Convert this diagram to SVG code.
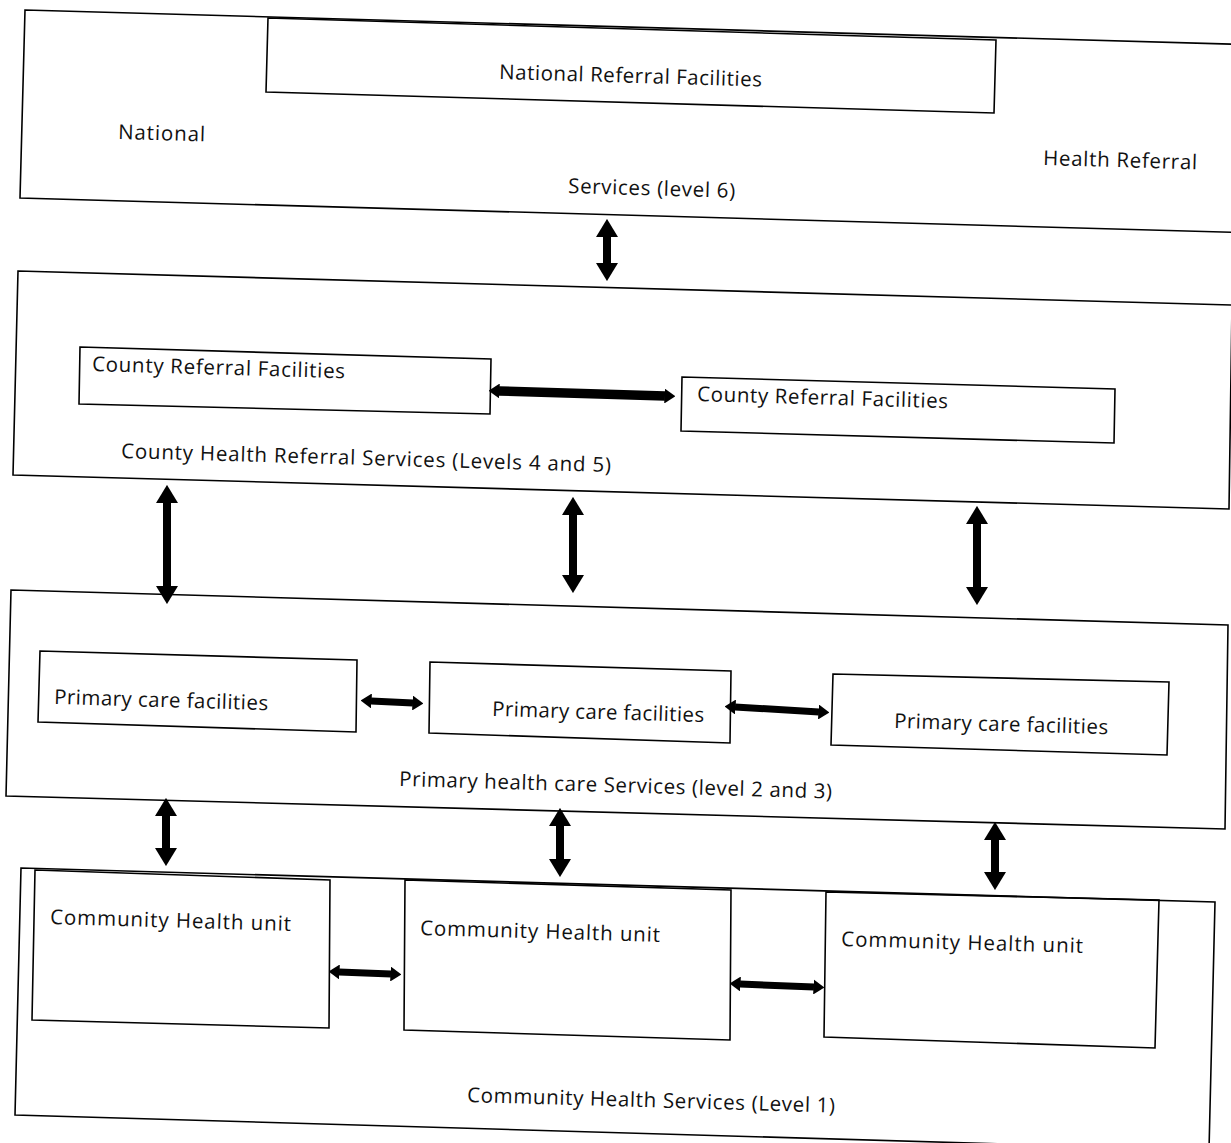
<svg xmlns="http://www.w3.org/2000/svg" width="1231" height="1143" viewBox="0 0 1231 1143">
<style>
.box{fill:none;stroke:#000;stroke-width:1.6;stroke-linejoin:miter}
.t{font-family:"Open Sans","Noto Sans","Liberation Sans",sans-serif;font-size:20.5px;fill:#111}
.av{stroke:#000;stroke-width:8;fill:none;marker-start:url(#hv);marker-end:url(#hv)}
.ah{stroke:#000;stroke-width:7;fill:none;marker-start:url(#hh);marker-end:url(#hh)}
.ahw{stroke-width:9.5}
</style>
<defs>
<marker id="hv" viewBox="0 0 10 10" refX="0.5" refY="5" markerUnits="userSpaceOnUse" markerWidth="18" markerHeight="22" orient="auto-start-reverse" preserveAspectRatio="none"><path d="M0,0 L10,5 L0,10 z" fill="#000"/></marker>
<marker id="hh" viewBox="0 0 10 10" refX="0.5" refY="5" markerUnits="userSpaceOnUse" markerWidth="11" markerHeight="15" orient="auto-start-reverse" preserveAspectRatio="none"><path d="M0,0 L10,5 L0,10 z" fill="#000"/></marker>
</defs>
<rect width="1231" height="1143" fill="#fff"/>

<g id="national-level">
<polygon class="box" points="25,10 1262,45 1257,233 20,198"/>
<text class="t" x="118" y="139" transform="rotate(1.65 118 139)" textLength="87">National</text>
<text class="t" x="1043" y="165" transform="rotate(1.65 1043 165)" textLength="154">Health Referral</text>
<text class="t" x="568" y="193" transform="rotate(1.65 568 193)" textLength="167">Services (level 6)</text>
</g>
<g id="national-referral-facilities">
<polygon class="box" points="268,18 996,40 994,113 266,92"/>
<text class="t" x="499" y="79" transform="rotate(1.65 499 79)" textLength="263">National Referral Facilities</text>
</g>

<g id="county-level">
<polygon class="box" points="18,271 1232,305 1229,509 13,475"/>
<text class="t" x="121" y="458" transform="rotate(1.65 121 458)" textLength="490">County Health Referral Services (Levels 4 and 5)</text>
</g>
<g id="county-referral-1">
<polygon class="box" points="80,347 491,359 490,414 79,404"/>
<text class="t" x="92" y="371" transform="rotate(1.65 92 371)" textLength="253">County Referral Facilities</text>
</g>
<g id="county-referral-2">
<polygon class="box" points="682,377 1115,389 1114,443 681,431"/>
<text class="t" x="697" y="401" transform="rotate(1.65 697 401)" textLength="251">County Referral Facilities</text>
</g>

<g id="primary-level">
<polygon class="box" points="11,590 1228,625 1225,829 6,796"/>
<text class="t" x="399" y="786" transform="rotate(1.65 399 786)" textLength="433">Primary health care Services (level 2 and 3)</text>
</g>
<g id="primary-care-1">
<polygon class="box" points="40,651 357,660 356,732 38,722"/>
<text class="t" x="54" y="704" transform="rotate(1.65 54 704)" textLength="214">Primary care facilities</text>
</g>
<g id="primary-care-2">
<polygon class="box" points="430,662 731,671 730,743 429,733"/>
<text class="t" x="492" y="716" transform="rotate(1.65 492 716)" textLength="212">Primary care facilities</text>
</g>
<g id="primary-care-3">
<polygon class="box" points="833,674 1169,682 1167,755 831,745"/>
<text class="t" x="894" y="728" transform="rotate(1.65 894 728)" textLength="214">Primary care facilities</text>
</g>

<g id="community-level">
<polygon class="box" points="21,868 1215,902 1209,1150 15,1115"/>
<text class="t" x="467" y="1102" transform="rotate(1.65 467 1102)" textLength="368">Community Health Services (Level 1)</text>
</g>
<g id="community-unit-1">
<polygon class="box" points="35,870 330,880 329,1028 32,1020"/>
<text class="t" x="50" y="924" transform="rotate(1.65 50 924)" textLength="241">Community Health unit</text>
</g>
<g id="community-unit-2">
<polygon class="box" points="405,880 731,890 730,1040 404,1030"/>
<text class="t" x="420" y="935" transform="rotate(1.65 420 935)" textLength="240">Community Health unit</text>
</g>
<g id="community-unit-3">
<polygon class="box" points="826,892 1159,900 1155,1048 824,1037"/>
<text class="t" x="841" y="946" transform="rotate(1.65 841 946)" textLength="242">Community Health unit</text>
</g>

<g id="connectors">
<line class="av" x1="607" y1="236" x2="607" y2="264"/>
<line class="ah ahw" x1="499" y1="391" x2="665" y2="396"/>
<line class="av" x1="167" y1="502" x2="167" y2="587"/>
<line class="av" x1="573" y1="514" x2="573" y2="576"/>
<line class="av" x1="977" y1="523" x2="977" y2="588"/>
<line class="ah" x1="371" y1="701" x2="413" y2="703"/>
<line class="ah" x1="735" y1="707" x2="819" y2="712"/>
<line class="av" x1="166" y1="815" x2="166" y2="849"/>
<line class="av" x1="560" y1="825" x2="560" y2="860"/>
<line class="av" x1="995" y1="839" x2="995" y2="873"/>
<line class="ah" x1="339" y1="972" x2="391" y2="974"/>
<line class="ah" x1="740" y1="984" x2="814" y2="987"/>
</g>
</svg>
